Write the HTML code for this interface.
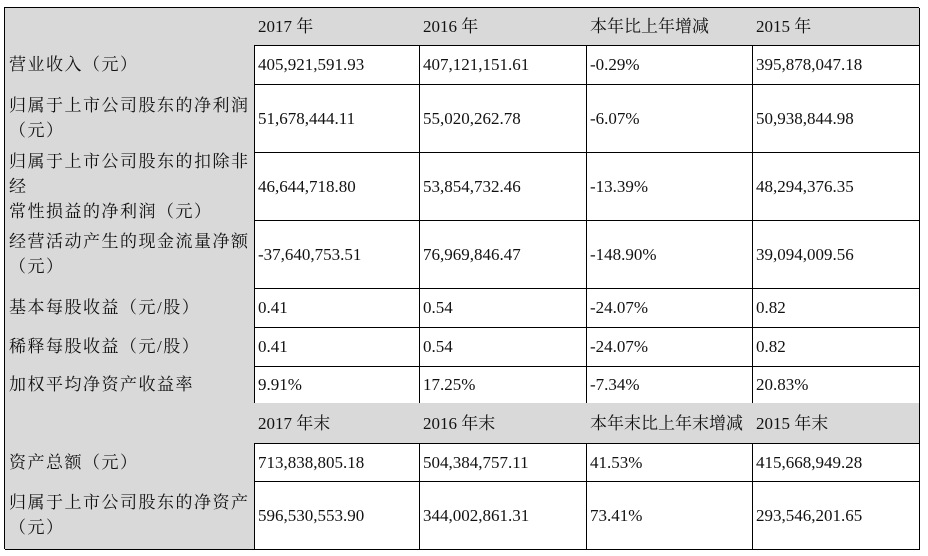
<!DOCTYPE html>
<html><head><meta charset="utf-8"><style>
body{margin:0;background:#fff;width:928px;height:556px;overflow:hidden;position:relative;font-family:"Liberation Serif","Noto Serif CJK SC",serif;font-size:17px;color:#111}
.c{position:absolute;box-sizing:border-box;border-right:1px solid #000;border-bottom:1px solid #000;padding-left:4px;display:flex;align-items:center;line-height:25px}
.g{background:#d9d9d9}
.l{letter-spacing:1.5px}
</style></head><body>
<div id="t" style="position:absolute;left:4px;top:7px;width:915px;height:542px;border-left:1px solid #000;border-top:1px solid #000;box-sizing:border-box"></div>
<script>
const cols=[4,254,419,586,752,919];
const rows=[7,45,84,152,220,288,327,366,403,443,481,549];
const data=[
["","2017 年","2016 年","本年比上年增减","2015 年"],
["营业收入（元）","405,921,591.93","407,121,151.61","-0.29%","395,878,047.18"],
["归属于上市公司股东的净利润<br>（元）","51,678,444.11","55,020,262.78","-6.07%","50,938,844.98"],
["归属于上市公司股东的扣除非经<br>常性损益的净利润（元）","46,644,718.80","53,854,732.46","-13.39%","48,294,376.35"],
["经营活动产生的现金流量净额<br>（元）","-37,640,753.51","76,969,846.47","-148.90%","39,094,009.56"],
["基本每股收益（元/股）","0.41","0.54","-24.07%","0.82"],
["稀释每股收益（元/股）","0.41","0.54","-24.07%","0.82"],
["加权平均净资产收益率","9.91%","17.25%","-7.34%","20.83%"],
["","2017 年末","2016 年末","本年末比上年末增减","2015 年末"],
["资产总额（元）","713,838,805.18","504,384,757.11","41.53%","415,668,949.28"],
["归属于上市公司股东的净资产<br>（元）","596,530,553.90","344,002,861.31","73.41%","293,546,201.65"]];
const hdr=[0,8];
data.forEach((r,i)=>r.forEach((v,j)=>{
const d=document.createElement('div');
d.className='c'+((j==0||hdr.includes(i))?' g':'')+(j==0?' l':'');
d.style.left=(cols[j]+(j==0?1:0))+'px';d.style.top=(rows[i]+(i==0?1:0))+'px';
d.style.width=(cols[j+1]-cols[j]-(j==0?1:0)+1)+'px';d.style.height=(rows[i+1]-rows[i]-(i==0?1:0)+1)+'px';
d.innerHTML=v;


document.body.appendChild(d);
}));
</script>
</body></html>
